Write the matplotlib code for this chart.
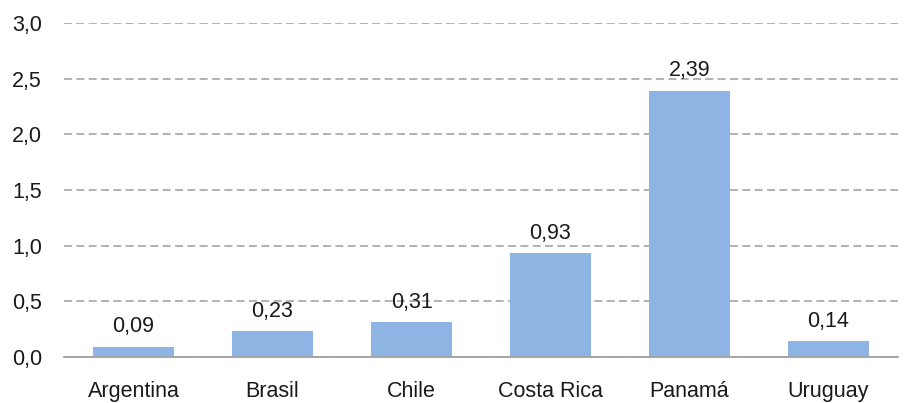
import matplotlib
matplotlib.use('Agg')
import matplotlib.pyplot as plt
from matplotlib.ticker import FuncFormatter

countries = ['Argentina', 'Brasil', 'Chile', 'Costa Rica', 'Panamá', 'Uruguay']
values = [0.09, 0.23, 0.31, 0.93, 2.39, 0.14]
yticks = [0.0, 0.5, 1.0, 1.5, 2.0, 2.5, 3.0]

plt.rcParams['font.family'] = ['Liberation Sans', 'DejaVu Sans']

fig = plt.figure(figsize=(9.06, 4.03), dpi=100)
ax = fig.add_axes([64 / 906, 1 - 357 / 403, 834 / 906, 334 / 403])

x = range(len(countries))
ax.bar(x, values, width=0.58, color='#8EB4E3', zorder=3)

for xi, v in zip(x, values):
    ax.annotate(f'{v:.2f}'.replace('.', ','), (xi, v), xytext=(0, 7),
                textcoords='offset points', ha='center', va='bottom',
                fontsize=15.5, color='#1a1a1a')

ax.set_xlim(-0.5, len(countries) - 0.5)
ax.set_ylim(0, 3.0)
ax.set_yticks(yticks)
ax.yaxis.set_major_formatter(FuncFormatter(lambda v, p: f'{v:.1f}'.replace('.', ',')))
ax.set_xticks(list(x))
ax.set_xticklabels(countries)

ax.grid(axis='y', linestyle=(0, (4.8, 2.6)), color='#A6A6A6', linewidth=1.2, zorder=0)
for s in ['top', 'right', 'left']:
    ax.spines[s].set_visible(False)
ax.spines['bottom'].set_color('#A0A0A0')
ax.spines['bottom'].set_linewidth(1.3)
ax.spines['bottom'].set_zorder(4)

ax.tick_params(axis='both', length=0, labelsize=15.5, colors='#1a1a1a')
ax.tick_params(axis='x', pad=17)
ax.tick_params(axis='y', pad=16)

fig.savefig('out.png', dpi=100)
